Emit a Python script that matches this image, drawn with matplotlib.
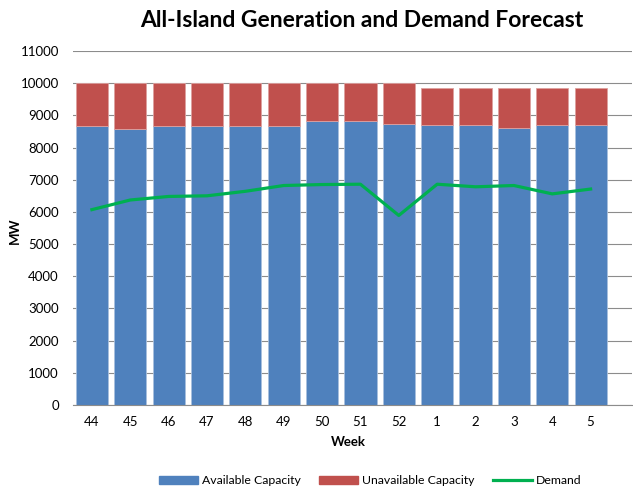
import matplotlib.pyplot as plt
from matplotlib.lines import Line2D
from matplotlib.patches import Patch
import numpy as np

weeks = ["44", "45", "46", "47", "48", "49", "50", "51", "52", "1", "2", "3", "4", "5"]
available = [8660, 8580, 8660, 8660, 8660, 8660, 8810, 8810, 8720, 8690, 8690, 8620, 8690, 8690]
total = [10000, 10000, 10000, 10000, 10000, 10000, 10000, 10000, 10000, 9840, 9840, 9840, 9840, 9840]
demand = [6070, 6370, 6480, 6500, 6640, 6820, 6850, 6860, 5890, 6860, 6780, 6820, 6560, 6710]
unavailable = [t - a for t, a in zip(total, available)]

BLUE = "#4F81BD"
RED = "#C0504D"
GREEN = "#00B050"

plt.rcParams["font.family"] = ["Lato", "DejaVu Sans"]

fig = plt.figure(figsize=(6.33, 4.87), dpi=100)
ax = fig.add_axes([0.1149, 0.1684, 0.883, 0.7269])

x = np.arange(len(weeks))
ax.bar(x, available, width=0.84, color=BLUE, edgecolor="#A8C0DE", linewidth=0.6, zorder=2)
ax.bar(x, unavailable, bottom=available, width=0.84, color=RED, edgecolor="#DDA09F", linewidth=0.6, zorder=2)
ax.plot(x, demand, color=GREEN, linewidth=2.3, zorder=3, solid_joinstyle="round")

ax.set_ylim(0, 11000)
ax.set_yticks(range(0, 11001, 1000))
ax.set_xlim(-0.5, 14.07)
ax.set_xticks(x)
ax.set_xticklabels(weeks)
ax.grid(axis="y", color="#8C8C8C", linewidth=0.8, zorder=0)
ax.set_axisbelow(True)
for side in ["top", "right", "left"]:
    ax.spines[side].set_visible(False)
ax.spines["bottom"].set_color("#8C8C8C")
ax.tick_params(axis="both", length=0, labelsize=9.5, colors="black")
ax.tick_params(axis="x", pad=8)
ax.tick_params(axis="y", pad=10)

# axis titles placed directly, like the Excel original
fig.text(0.551, 0.092, "Week", ha="center", va="center", fontsize=9.5, fontweight="bold")
fig.text(0.023, 0.527, "MW", ha="center", va="center", fontsize=9.5, fontweight="bold", rotation=90)

fig.text(0.572, 0.958, "All-Island Generation and Demand Forecast", ha="center", va="center",
         fontsize=16.5, fontweight="bold")

handles = [
    Patch(facecolor=BLUE, edgecolor=BLUE),
    Patch(facecolor=RED, edgecolor=RED),
    Line2D([0], [0], color=GREEN, linewidth=2.3),
]
labels = ["Available Capacity", "Unavailable Capacity", "Demand"]
fig.legend(handles, labels, loc="center", bbox_to_anchor=(0.585, 0.013), ncol=3, frameon=False,
           fontsize=8.8, handlelength=3.2, handleheight=0.6, columnspacing=1.5, handletextpad=0.3)

fig.savefig("out.png", dpi=100)
